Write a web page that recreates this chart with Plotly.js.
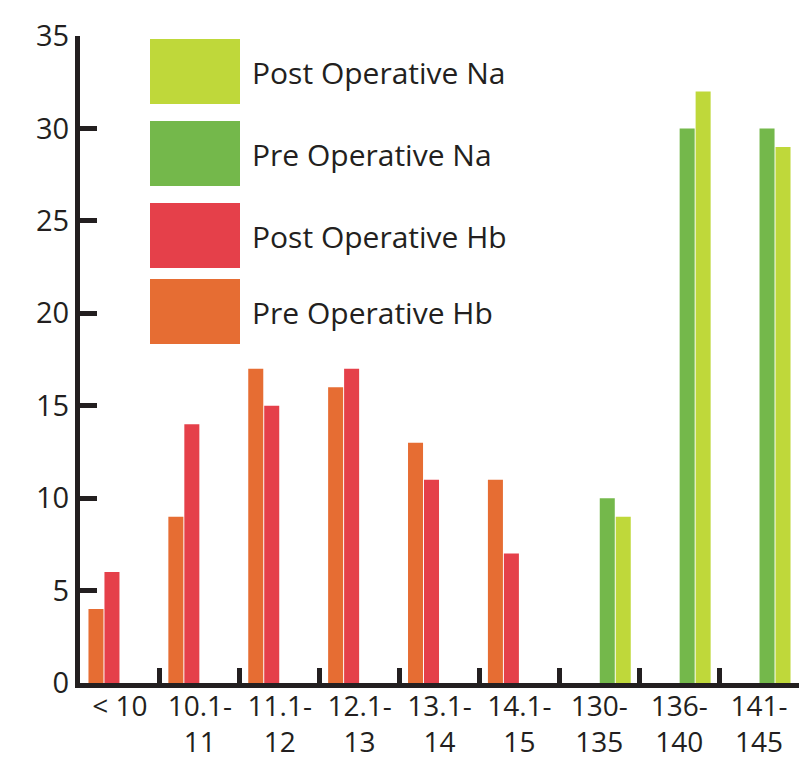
<!DOCTYPE html>
<html>
<head>
<meta charset="utf-8">
<script src="https://cdn.plot.ly/plotly-3.0.1.min.js"></script>
<style>
  html, body { margin: 0; padding: 0; background: #ffffff; }
  #chart { width: 803px; height: 761px; }
</style>
</head>
<body>
<div id="chart"></div>
<script>
// Category bins: haemoglobin (g/dL) bins followed by sodium (mmol/L) bins
const categories = ['< 10', '10.1-<br>11', '11.1-<br>12', '12.1-<br>13', '13.1-<br>14', '14.1-<br>15',
                    '130-<br>135', '136-<br>140', '141-<br>145'];

// Counts per bin (null where a series has no bin)
const preHb  = [4, 9, 17, 16, 13, 11, null, null, null];
const postHb = [6, 14, 15, 17, 11, 7, null, null, null];
const preNa  = [null, null, null, null, null, null, 10, 30, 30];
const postNa = [null, null, null, null, null, null, 9, 32, 29];

const seriesNames  = ['Pre Operative Hb', 'Post Operative Hb', 'Pre Operative Na', 'Post Operative Na'];
const seriesValues = [preHb, postHb, preNa, postNa];
const seriesColors = ['#e66d33', '#e5404a', '#74b84b', '#bfd83a'];

const yTicks = [0, 5, 10, 15, 20, 25, 30, 35];

const FONT = 'Open Sans, DejaVu Sans, sans-serif';
const INK = '#231f20';

const traces = seriesNames.map((name, i) => ({
  type: 'bar',
  name: name,
  x: categories,
  y: seriesValues[i],
  marker: { color: seriesColors[i], line: { width: 0 } },
  hoverinfo: 'x+y+name'
}));

// Plot area in pixels (used to place the custom legend blocks)
const W = 803, H = 761;
const M = { l: 80, r: 4, t: 36, b: 78 };
const plotW = W - M.l - M.r, plotH = H - M.t - M.b;
const px = v => (v - M.l) / plotW;
const py = v => (H - M.b - v) / plotH;

// Legend: large swatches with labels, top entry first
const legendOrder = [3, 2, 1, 0];
const legendTops = [39, 121, 203, 279];
const swatchH = 65;
const shapes = [], annotations = [];
legendOrder.forEach((si, k) => {
  const top = legendTops[k];
  shapes.push({
    type: 'rect', xref: 'paper', yref: 'paper',
    x0: px(150), x1: px(240), y0: py(top + swatchH), y1: py(top),
    fillcolor: seriesColors[si], line: { width: 0 }
  });
  annotations.push({
    xref: 'paper', yref: 'paper', x: px(250), y: py(top + swatchH / 2 + 1),
    xanchor: 'left', yanchor: 'middle', showarrow: false,
    text: seriesNames[si], font: { family: FONT, size: 30, color: INK }
  });
});

const layout = {
  width: W, height: H,
  margin: M,
  paper_bgcolor: '#ffffff', plot_bgcolor: '#ffffff',
  barmode: 'group', bargap: 0.2, bargroupgap: 0.06,
  showlegend: false,
  font: { family: FONT, size: 29, color: INK },
  xaxis: {
    type: 'category',
    showline: true, linecolor: INK, linewidth: 5,
    ticks: 'inside', tickson: 'boundaries', ticklen: 15, tickwidth: 5, tickcolor: INK,
    showgrid: false, zeroline: false,
    ticklabelstandoff: -6,
    tickfont: { family: FONT, size: 28, color: INK },
    fixedrange: true
  },
  yaxis: {
    range: [0, 35], tickvals: yTicks, ticktext: yTicks.map(String),
    showline: true, linecolor: INK, linewidth: 5,
    ticks: 'inside', ticklen: 17, tickwidth: 5, tickcolor: INK,
    showgrid: false, zeroline: false,
    tickfont: { family: FONT, size: 29, color: INK },
    fixedrange: true
  },
  shapes: shapes,
  annotations: annotations
};

Plotly.newPlot('chart', traces, layout, { displayModeBar: false, staticPlot: true });
</script>
</body>
</html>
